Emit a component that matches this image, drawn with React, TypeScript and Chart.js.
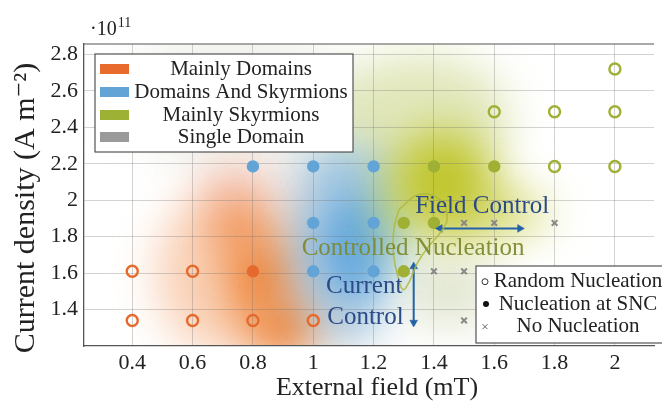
import React, { useEffect, useRef } from "react";
import { Chart, registerables } from "chart.js";
Chart.register(...registerables);

const SERIF = '"Liberation Serif", "DejaVu Serif", serif';

// ---- axis ticks and titles ----
const xTickValues = [0.4, 0.6, 0.8, 1.0, 1.2, 1.4, 1.6, 1.8, 2.0];
const yTickValues = [1.4, 1.6, 1.8, 2.0, 2.2, 2.4, 2.6, 2.8];
const xTitle = "External field (mT)";
const yTitle = "Current density (A m\u207b\u00b2)";

// ---- data (x: external field mT, y: current density /1e11) ----
const domainsRandom = [[0.4, 1.61], [0.6, 1.61], [0.4, 1.34], [0.6, 1.34], [0.8, 1.34], [1.0, 1.34]];
const domainsSNC = [[0.8, 1.61]];
const mixedSNC = [[0.8, 2.185], [1.0, 2.185], [1.2, 2.185], [1.0, 1.875], [1.2, 1.875], [1.0, 1.61], [1.2, 1.61]];
const skyrmionsSNC = [[1.4, 2.185], [1.6, 2.185], [1.3, 1.875], [1.4, 1.875], [1.3, 1.61]];
const skyrmionsRandom = [[1.8, 2.185], [2.0, 2.185], [1.6, 2.485], [1.8, 2.485], [2.0, 2.485], [2.0, 2.72]];
const noNucleation = [[1.5, 1.875], [1.6, 1.875], [1.8, 1.875], [1.4, 1.61], [1.5, 1.61], [1.5, 1.34]];

// ---- annotation geometry (data coords) ----
const fieldArrow = [[1.42, 1.845], [1.685, 1.845]];
const currentArrow = [[1.333, 1.636], [1.333, 1.329]];
const controlledContour = [
  [1.284, 1.948], [1.349, 2.03], [1.421, 2.003], [1.444, 1.91], [1.428, 1.838],
  [1.382, 1.745], [1.346, 1.658], [1.317, 1.548], [1.297, 1.51], [1.281, 1.581],
  [1.267, 1.69], [1.267, 1.838], [1.284, 1.948],
];
const annotationLabels = [
  { text: "Field Control", x: 1.56, y: 1.964, color: "#2b4a86" },
  { text: "Controlled Nucleation", x: 1.331, y: 1.734, color: "rgba(125,138,50,0.95)" },
  { text: "Current", x: 1.169, y: 1.526, color: "#2b4a86" },
  { text: "Control", x: 1.173, y: 1.356, color: "#2b4a86" },
];

// ---- legends ----
const regionLabels = ["Mainly Domains", "Domains And Skyrmions", "Mainly Skyrmions", "Single Domain"];
const regionColors = ["#e86a2c", "#62a4d6", "#9db235", "#9a9a9a"];
const markerLabels = ["Random Nucleation", "Nucleation at SNC", "No Nucleation"];

// ---- blurred region shading (data coords, radii in data units) ----
const regionBlobs = [
  { x: 0.75, y: 2.55, rx: 0.4, ry: 0.35, c: "rgba(215,220,205,0.45)" },
  { x: 1.35, y: 2.45, rx: 0.3, ry: 0.35, c: "rgba(205,215,140,0.6)" },
  { x: 0.7, y: 1.6, rx: 0.22, ry: 0.45, c: "rgba(244,170,120,0.55)" },
  { x: 0.75, y: 2.05, rx: 0.13, ry: 0.15, c: "rgba(236,160,140,0.55)" },
  { x: 0.9, y: 1.3, rx: 0.12, ry: 0.17, c: "rgba(238,125,45,1)" },
  { x: 0.82, y: 1.58, rx: 0.1, ry: 0.22, c: "rgba(238,128,48,1)" },
  { x: 0.76, y: 1.85, rx: 0.09, ry: 0.14, c: "rgba(240,135,65,0.9)" },
  { x: 0.97, y: 1.75, rx: 0.06, ry: 0.42, c: "rgba(160,150,145,0.6)" },
  { x: 1.13, y: 1.75, rx: 0.14, ry: 0.38, c: "rgba(100,168,222,1)" },
  { x: 1.1, y: 2.15, rx: 0.15, ry: 0.15, c: "rgba(130,180,215,0.7)" },
  { x: 1.1, y: 1.32, rx: 0.12, ry: 0.13, c: "rgba(140,175,200,0.6)" },
  { x: 1.45, y: 1.5, rx: 0.16, ry: 0.2, c: "rgba(200,210,170,0.55)" },
  { x: 1.27, y: 1.92, rx: 0.07, ry: 0.25, c: "rgba(150,190,110,0.6)" },
  { x: 1.58, y: 1.93, rx: 0.2, ry: 0.14, c: "rgba(200,205,70,0.7)" },
  { x: 1.43, y: 2.1, rx: 0.17, ry: 0.28, c: "rgba(192,198,45,1)" },
];

const toXY = (arr: number[][]) => arr.map(([x, y]) => ({ x, y }));
const fmt = (v: number) => String(Number(v.toFixed(1)));

const backgroundPlugin = {
  id: "regionShading",
  beforeDraw(chart: any) {
    const { ctx, chartArea, scales } = chart;
    const sx = scales.x, sy = scales.y;
    ctx.save();
    ctx.beginPath();
    ctx.rect(chartArea.left, chartArea.top, chartArea.right - chartArea.left, chartArea.bottom - chartArea.top);
    ctx.clip();
    ctx.filter = "blur(22px)";
    for (const b of regionBlobs) {
      const cx = sx.getPixelForValue(b.x);
      const cy = sy.getPixelForValue(b.y);
      const rx = Math.abs(sx.getPixelForValue(b.x + b.rx) - cx);
      const ry = Math.abs(sy.getPixelForValue(b.y + b.ry) - cy);
      ctx.fillStyle = b.c;
      ctx.beginPath();
      ctx.ellipse(cx, cy, rx, ry, 0, 0, Math.PI * 2);
      ctx.fill();
    }
    ctx.restore();
  },
};

const overlayPlugin = {
  id: "overlay",
  afterDraw(chart: any) {
    const { ctx, chartArea, scales } = chart;
    const sx = scales.x, sy = scales.y;
    ctx.save();
    // top frame line
    ctx.strokeStyle = "#555";
    ctx.lineWidth = 1.2;
    ctx.beginPath();
    ctx.moveTo(chartArea.left, chartArea.top);
    ctx.lineTo(chartArea.right, chartArea.top);
    ctx.stroke();

    // axis titles
    ctx.fillStyle = "#222";
    ctx.textAlign = "center";
    ctx.textBaseline = "middle";
    ctx.font = `26px ${SERIF}`;
    ctx.fillText(xTitle, 377, 388);
    ctx.save();
    ctx.translate(26, 208);
    ctx.rotate(-Math.PI / 2);
    ctx.font = `30px ${SERIF}`;
    ctx.fillText(yTitle, 0, 0);
    ctx.restore();

    // exponent label
    ctx.fillStyle = "#222";
    ctx.textBaseline = "alphabetic";
    ctx.textAlign = "left";
    ctx.font = `20px ${SERIF}`;
    ctx.fillText("\u00b710", 90, 35);
    const w10 = ctx.measureText("\u00b710").width;
    ctx.font = `14px ${SERIF}`;
    ctx.fillText("11", 90 + w10 + 1, 27);

    // annotation labels
    ctx.textAlign = "center";
    ctx.textBaseline = "middle";
    ctx.font = `25px ${SERIF}`;
    for (const a of annotationLabels) {
      ctx.fillStyle = a.color;
      ctx.fillText(a.text, sx.getPixelForValue(a.x), sy.getPixelForValue(a.y));
    }

    // region legend
    const l1x = chartArea.left + 11, l1y = chartArea.top + 10, l1w = 258, l1h = 98;
    ctx.fillStyle = "#ffffff";
    ctx.fillRect(l1x, l1y, l1w, l1h);
    ctx.strokeStyle = "#444";
    ctx.lineWidth = 1.1;
    ctx.strokeRect(l1x, l1y, l1w, l1h);
    ctx.font = `21px ${SERIF}`;
    const rowOff = [15, 38, 61, 83];
    regionLabels.forEach((lab, i) => {
      const cy = l1y + rowOff[i];
      ctx.fillStyle = regionColors[i];
      ctx.fillRect(l1x + 5, cy - 5, 29, 10);
      ctx.fillStyle = "#222";
      ctx.fillText(lab, l1x + 146, cy);
    });

    // marker legend
    const l2x = chartArea.left + 392, l2y = 266, l2w = 200, l2h = 77;
    ctx.fillStyle = "#ffffff";
    ctx.fillRect(l2x, l2y, l2w, l2h);
    ctx.strokeStyle = "#444";
    ctx.strokeRect(l2x, l2y, l2w, l2h);
    const rows2 = [15.7, 38, 60.7];
    markerLabels.forEach((lab, i) => {
      const cy = l2y + rows2[i];
      const mx = l2x + 9;
      ctx.lineWidth = 1;
      if (i === 0) {
        ctx.strokeStyle = "#333";
        ctx.beginPath();
        ctx.arc(mx, cy, 3, 0, Math.PI * 2);
        ctx.stroke();
      } else if (i === 1) {
        ctx.fillStyle = "#111";
        ctx.beginPath();
        ctx.arc(mx + 1, cy, 3, 0, Math.PI * 2);
        ctx.fill();
      } else {
        ctx.strokeStyle = "#666";
        ctx.beginPath();
        ctx.moveTo(mx - 2.5, cy - 2.5); ctx.lineTo(mx + 2.5, cy + 2.5);
        ctx.moveTo(mx - 2.5, cy + 2.5); ctx.lineTo(mx + 2.5, cy - 2.5);
        ctx.stroke();
      }
      ctx.fillStyle = "#222";
      ctx.font = `21px ${SERIF}`;
      ctx.fillText(lab, l2x + 102, cy);
    });
    ctx.restore();
  },
};

export default function App() {
  const ref = useRef<HTMLCanvasElement | null>(null);
  useEffect(() => {
    if (!ref.current) return;
    const orange = "#e66a2e";
    const blue = "#62a4d6";
    const green = "#a0b034";
    const gray = "#888888";
    const arrowBlue = "#2462a8";
    const chart = new Chart(ref.current, {
      type: "scatter",
      data: {
        datasets: [
          {
            label: "contour",
            data: toXY(controlledContour),
            showLine: true,
            tension: 0.45,
            borderColor: "rgba(175,185,60,0.85)",
            borderWidth: 1.6,
            pointRadius: 0,
            fill: false,
          },
          {
            label: "field arrow",
            data: toXY(fieldArrow),
            showLine: true,
            borderColor: arrowBlue,
            borderWidth: 2,
            pointStyle: "triangle",
            pointRadius: 4.5,
            pointRotation: [270, 90],
            pointBackgroundColor: arrowBlue,
            pointBorderColor: arrowBlue,
            pointBorderWidth: 0.5,
          },
          {
            label: "current arrow",
            data: toXY(currentArrow),
            showLine: true,
            borderColor: arrowBlue,
            borderWidth: 2,
            pointStyle: "triangle",
            pointRadius: 4.5,
            pointRotation: [0, 180],
            pointBackgroundColor: arrowBlue,
            pointBorderColor: arrowBlue,
            pointBorderWidth: 0.5,
          },
          {
            label: "domains random",
            data: toXY(domainsRandom),
            pointStyle: "circle",
            pointRadius: 5.5,
            pointBorderWidth: 2.4,
            pointBorderColor: orange,
            pointBackgroundColor: "rgba(0,0,0,0)",
          },
          {
            label: "domains snc",
            data: toXY(domainsSNC),
            pointRadius: 6.2,
            pointBorderWidth: 0,
            pointBackgroundColor: orange,
          },
          {
            label: "mixed snc",
            data: toXY(mixedSNC),
            pointRadius: 6.2,
            pointBorderWidth: 0,
            pointBackgroundColor: blue,
          },
          {
            label: "skyrmions snc",
            data: toXY(skyrmionsSNC),
            pointRadius: 6.2,
            pointBorderWidth: 0,
            pointBackgroundColor: green,
          },
          {
            label: "skyrmions random",
            data: toXY(skyrmionsRandom),
            pointRadius: 5.5,
            pointBorderWidth: 2.4,
            pointBorderColor: green,
            pointBackgroundColor: "rgba(0,0,0,0)",
          },
          {
            label: "no nucleation",
            data: toXY(noNucleation),
            pointStyle: "crossRot",
            pointRadius: 4,
            pointBorderWidth: 2,
            pointBorderColor: gray,
          },
        ],
      },
      options: {
        animation: false,
        responsive: false,
        devicePixelRatio: 1,
        events: [],
        layout: { padding: { left: 0, top: 44, right: 0, bottom: 0 } },
        plugins: { legend: { display: false }, tooltip: { enabled: false } },
        scales: {
          x: {
            type: "linear",
            min: 0.24,
            max: 2.13,
            afterBuildTicks: (s: any) => { s.ticks = xTickValues.map((v) => ({ value: v })); },
            afterFit: (s: any) => { s.height = 57; s.paddingLeft = 0; s.paddingRight = 0; },
            ticks: {
              padding: 4,
              color: "#222",
              font: { family: SERIF, size: 22 },
              callback: (v: any) => fmt(Number(v)),
            },
            grid: { color: "rgba(110,110,110,0.3)", lineWidth: 1, drawTicks: false },
            border: { display: true, color: "#555", width: 1.3 },
            title: { display: false },
          },
          y: {
            type: "linear",
            min: 1.2,
            max: 2.857,
            afterBuildTicks: (s: any) => { s.ticks = yTickValues.map((v) => ({ value: v })); },
            afterFit: (s: any) => { s.width = 84; s.paddingTop = 0; s.paddingBottom = 0; },
            ticks: {
              padding: 6,
              color: "#222",
              font: { family: SERIF, size: 22 },
              callback: (v: any) => fmt(Number(v)),
            },
            grid: { color: "rgba(110,110,110,0.3)", lineWidth: 1, drawTicks: false },
            border: { display: true, color: "#555", width: 1.3 },
            title: { display: false },
          },
        },
      },
      plugins: [backgroundPlugin, overlayPlugin],
    } as any);
    return () => chart.destroy();
  }, []);
  return (
    <div style={{ position: "fixed", left: 0, top: 0, width: 662, height: 403, background: "#fff" }}>
      <canvas ref={ref} width={662} height={403} style={{ display: "block" }} />
    </div>
  );
}
